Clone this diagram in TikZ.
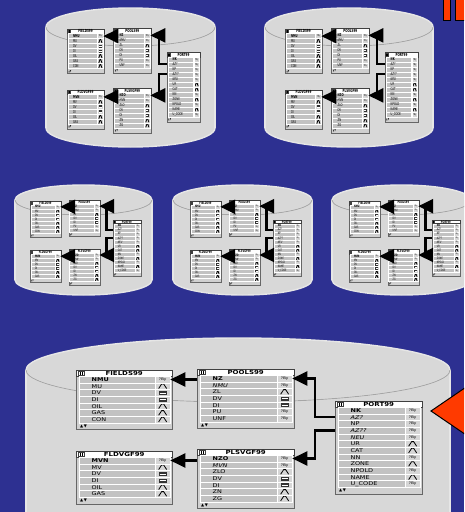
\documentclass[tikz,border=0pt]{standalone}
\usepackage{fontspec}
\newfontfamily\tabfont[FakeStretch=1.25]{DejaVu Sans}
\newfontfamily\symfont{DejaVu Sans}
\usetikzlibrary{positioning,arrows.meta,calc}
\definecolor{bgblue}{HTML}{2D3091}
\definecolor{cylfill}{HTML}{D8D8D8}
\definecolor{cylrim}{HTML}{E6E6E6}
\definecolor{cylline}{HTML}{A6A6A6}
\definecolor{framegrey}{HTML}{D0D0D0}
\definecolor{rowgrey}{HTML}{C2C2C2}
\definecolor{icongrey}{HTML}{D6D6D6}
\definecolor{alert}{HTML}{FF3A00}
\tikzset{
  cylbody/.style={fill=cylfill, draw=cylrim, line width=1.4pt},
  cylinner/.style={draw=cylline, line width=.9pt},
  tabframe/.style={rectangle, draw=black!60, fill=framegrey, inner sep=0pt, line width=.4pt},
  tabtitle/.style={rectangle, draw=black!75, fill=white, inner sep=0pt, minimum height=6pt,
                   font=\tabfont\fontsize{5.6}{6}\selectfont\bfseries, line width=.4pt},
  tabkey/.style={rectangle, draw=black!75, fill=white, minimum width=6pt, minimum height=4.2pt, inner sep=0pt,
                 path picture={\draw[black, line width=.4pt] ([xshift=-1pt]path picture bounding box.north) -- ([xshift=-1pt]path picture bounding box.south)
                                                      ([xshift=1pt]path picture bounding box.north) -- ([xshift=1pt]path picture bounding box.south);}},
  tabrow/.style={rectangle, draw=white, fill=rowgrey, inner sep=0pt, minimum height=6.67pt,
                 text height=3.8pt, text depth=0pt, align=left, line width=.3pt},
  kn/.style={font=\tabfont\fontsize{5.2}{5}\selectfont},
  kb/.style={font=\tabfont\fontsize{5.2}{5}\selectfont\bfseries},
  ki/.style={font=\tabfont\fontsize{5.2}{5}\selectfont\itshape},
  iconcell/.style={rectangle, draw=white, fill=icongrey, inner sep=0pt, minimum width=15pt, minimum height=6.67pt, line width=.3pt},
  icob/.style={iconcell, font=\tabfont\fontsize{3.4}{3}\selectfont, execute at begin node={?By}},
  icot/.style={iconcell, path picture={\draw[black, line width=.8pt, line join=miter] ([xshift=-4pt,yshift=-2.4pt]path picture bounding box.center)
                                        -- ++(3pt,4.6pt) -- ++(2pt,0pt) -- ++(3pt,-4.6pt);}},
  icod/.style={iconcell, path picture={\fill[black!80] ([xshift=-4pt,yshift=-2pt]path picture bounding box.center) rectangle ++(8pt,4pt);
                                        \draw[white, line width=.3pt] ([xshift=-3pt]path picture bounding box.center) -- ++(6pt,0pt);}},
  tabnav/.style={font=\symfont\fontsize{4}{4}\selectfont, inner sep=0pt},
  link/.style={line width=2.2pt, draw=black, -{Triangle[length=15pt,width=14pt]}},
}

% cylinder: centre x, top y, bottom y, x radius, y radius
\newcommand\cyl[5]{%
  \filldraw[cylbody] (#1,#3) ellipse [x radius=#4, y radius=#5];
  \fill[cylfill] (#1-#4,#2) rectangle (#1+#4,#3);
  \draw[cylbody] (#1-#4,#2) -- (#1-#4,#3) (#1+#4,#2) -- (#1+#4,#3);
  \filldraw[cylbody] (#1,#2) ellipse [x radius=#4, y radius=#5];
  \begin{scope}
    \clip (#1-#4-2,#2) rectangle (#1+#4+2,#2+#5+2);
    \draw[cylinner] (#1,#2) ellipse [x radius=#4, y radius=#5];
  \end{scope}}

% table: name, title, x, y, width, rows, {label/style/icon,...}
\newcommand\dbtable[7]{%
  \pgfmathsetmacro\tabh{12.5+#6*6.67}
  \pgfmathsetmacro\namew{#5-20}
  \node[tabframe, anchor=north west, minimum width=#5pt, minimum height=\tabh pt] (#1-f) at (#3,#4) {};
  \node[tabtitle, anchor=north west, minimum width=#5pt] (#1) at (#3,#4) {#2};
  \node[tabkey, anchor=west] (#1-k) at ({#3+2},{#4+3}) {};
  \foreach \lab/\sty/\ico [count=\i] in {#7} {
    \node[tabrow, \sty, anchor=north west, text width=\namew pt] (#1-\i) at ({#3+2.5},{#4+6+(\i-1)*6.67}) {\hspace*{13pt}\lab};
    \node[\ico, anchor=north west] (#1-\i i) at ({#3+#5-17},{#4+6+(\i-1)*6.67}) {};
  }
  \node[tabnav, anchor=south west] (#1-n) at ({#3+4},{#4+\tabh-1}) {▲\,▼};
}

% the five tables and their links
\newcommand\schema[2]{%
  \begin{scope}[#2]
    \dbtable{#1fields}{FIELDS99}{0}{0}{96}{7}{NMU/kb/icob, MU/kn/icot, DV/kn/icod, DI/kn/icod, OIL/kn/icot, GAS/kn/icot, CON/kn/icot}
    \dbtable{#1pools}{POOLS99}{121}{-1}{97}{7}{NZ/kb/icob, NMU/ki/icob, ZL/kn/icot, DV/kn/icod, DI/kn/icod, PU/kn/icob, UNF/kn/icob}
    \dbtable{#1fldvgf}{FLDVGF99}{0}{81}{96}{6}{MVN/kb/icob, MV/kn/icot, DV/kn/icod, DI/kn/icod, OIL/kn/icot, GAS/kn/icot}
    \dbtable{#1plsvgf}{PLSVGF99}{121}{79}{97}{7}{NZO/kb/icob, MVN/ki/icob, ZLO/kn/icot, DV/kn/icod, DI/kn/icod, ZN/kn/icot, ZG/kn/icot}
    \dbtable{#1port}{PORT99}{259}{31}{87}{12}{NK/kb/icob, AZ?/ki/icob, NP/kn/icob, AZ??/ki/icob, NEU/ki/icob, UR/kn/icot, CAT/kn/icot, NN/kn/icob, ZONE/kn/icot, NPOLD/kn/icob, NAME/kn/icot, U\_CODE/kn/icob}
    \draw[link] (#1pools-f.west |- #1fields-1i.east) -- (#1fields-1i.east);
    \draw[link] (#1plsvgf-f.west |- #1fldvgf-1i.east) -- (#1fldvgf-1i.east);
    \draw[link] (#1port-f.west |- #1port-2.west) -- ++(-20,0) |- (#1pools-1i.east);
    \draw[link] (#1port-f.west |- #1port-4.west) -- ++(-20,0) |- (#1plsvgf-1i.east);
  \end{scope}}

\begin{document}
\begin{tikzpicture}[x=1pt, y=-1pt]
  \useasboundingbox (0,0) rectangle (464,512);
  \clip (0,0) rectangle (464,512);
  \fill[bgblue] (0,0) rectangle (464,512);

  % top row
  \cyl{130.5}{27}{128}{84.5}{19}
  \cyl{349}{27}{128}{84}{19}
  \schema{tl}{shift={(67,29)}, xscale=.385, yscale=.75, transform shape}
  \schema{tr}{shift={(285,29)}, xscale=.385, yscale=.75, transform shape}

  % middle row
  \cyl{83.5}{200}{280}{68.5}{15}
  \cyl{242.5}{200}{280}{69.5}{15}
  \cyl{401.5}{200}{280}{69.5}{15}
  \schema{ml}{shift={(30,201)}, xscale=.32, yscale=.61, transform shape}
  \schema{mm}{shift={(190,201)}, xscale=.32, yscale=.61, transform shape}
  \schema{mr}{shift={(349,201)}, xscale=.32, yscale=.61, transform shape}

  % bottom
  \cyl{238}{370}{530}{212}{32}
  \schema{}{shift={(76,370)}}

  \filldraw[fill=alert, draw=black, line width=1pt] (443,-3) rectangle (450,20);
  \filldraw[fill=alert, draw=black, line width=1pt] (455,-3) rectangle (468,20);
  \filldraw[fill=alert, draw=black, line width=1pt] (431,411) -- (475,381) -- (475,441) -- cycle;
\end{tikzpicture}
\end{document}
